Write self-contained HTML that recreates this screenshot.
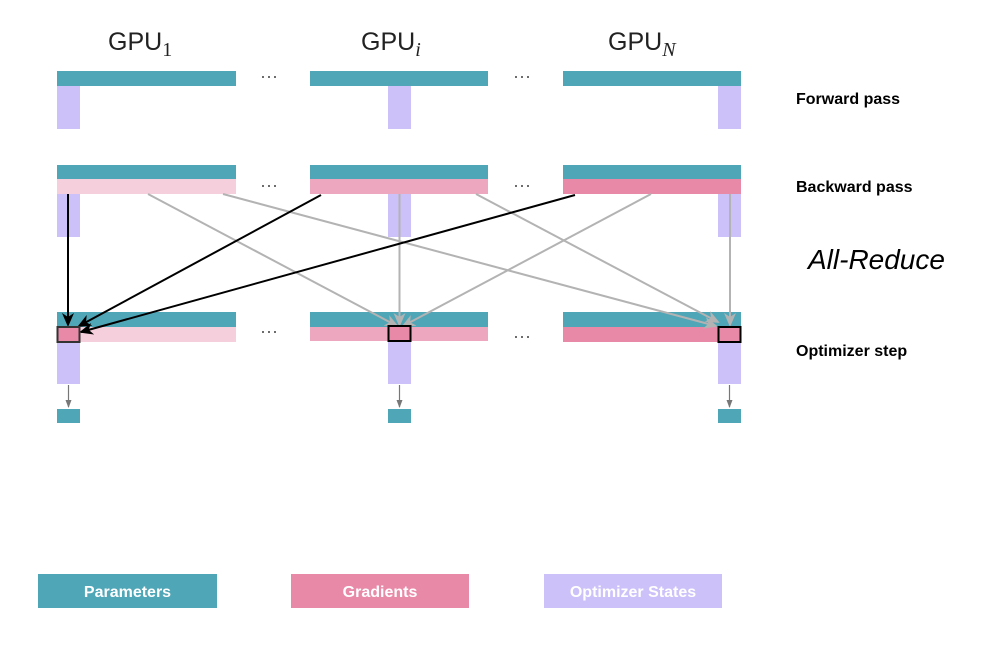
<!DOCTYPE html>
<html><head><style>
body{margin:0;width:991px;height:643px;background:#fff;overflow:hidden;font-family:"Liberation Sans",sans-serif;}
</style></head><body>
<svg width="991" height="643" xmlns="http://www.w3.org/2000/svg" font-family="Liberation Sans, sans-serif">
<defs>
<marker id="ab" markerWidth="8" markerHeight="8" refX="7" refY="4" orient="auto" markerUnits="userSpaceOnUse"><path d="M0,0 L8,4 L0,8 z" fill="#000"/></marker>
<marker id="ag" markerWidth="14" markerHeight="12" refX="12" refY="6" orient="auto" markerUnits="userSpaceOnUse"><path d="M0,0 L14,6 L0,12 L4,6 z" fill="#b3b3b3"/></marker>
<marker id="ak" markerWidth="14" markerHeight="12" refX="12" refY="6" orient="auto" markerUnits="userSpaceOnUse"><path d="M0,0 L14,6 L0,12 L4,6 z" fill="#000"/></marker>
<marker id="as" markerWidth="8" markerHeight="8" refX="7" refY="4" orient="auto" markerUnits="userSpaceOnUse"><path d="M0,1 L8,4 L0,7 z" fill="#777"/></marker>
</defs>
<g font-size="25" fill="#222">
<text x="108" y="50">GPU<tspan font-family="Liberation Serif" font-size="20" dy="6">1</tspan></text>
<text x="361" y="50">GPU<tspan font-family="Liberation Serif" font-style="italic" font-size="20" dy="6">i</tspan></text>
<text x="608" y="50">GPU<tspan font-family="Liberation Serif" font-style="italic" font-size="20" dy="6">N</tspan></text>
</g>
<!-- forward -->
<rect x="57" y="71" width="179" height="15" fill="#4fa6b7"/>
<rect x="310" y="71" width="178" height="15" fill="#4fa6b7"/>
<rect x="563" y="71" width="178" height="15" fill="#4fa6b7"/>
<rect x="57" y="86" width="23" height="43" fill="#cdc1fa"/>
<rect x="388" y="86" width="23" height="43" fill="#cdc1fa"/>
<rect x="718" y="86" width="23" height="43" fill="#cdc1fa"/>
<!-- backward -->
<rect x="57" y="165" width="179" height="14" fill="#4fa6b7"/>
<rect x="310" y="165" width="178" height="14" fill="#4fa6b7"/>
<rect x="563" y="165" width="178" height="14" fill="#4fa6b7"/>
<rect x="57" y="179" width="179" height="15" fill="#f6cfdc"/>
<rect x="310" y="179" width="178" height="15" fill="#eda7be"/>
<rect x="563" y="179" width="178" height="15" fill="#e989a8"/>
<rect x="57" y="194" width="23" height="43" fill="#cdc1fa"/>
<rect x="388" y="194" width="23" height="43" fill="#cdc1fa"/>
<rect x="718" y="194" width="23" height="43" fill="#cdc1fa"/>
<!-- optimizer -->
<rect x="57" y="312" width="179" height="15" fill="#4fa6b7"/>
<rect x="310" y="312" width="178" height="15" fill="#4fa6b7"/>
<rect x="563" y="312" width="178" height="15" fill="#4fa6b7"/>
<rect x="57" y="327" width="179" height="15" fill="#f6cfdc"/>
<rect x="310" y="327" width="178" height="14" fill="#eda7be"/>
<rect x="563" y="327" width="178" height="15" fill="#e989a8"/>
<rect x="57" y="342" width="23" height="42" fill="#cdc1fa"/>
<rect x="388" y="342" width="23" height="42" fill="#cdc1fa"/>
<rect x="718" y="342" width="23" height="42" fill="#cdc1fa"/>
<rect x="57" y="409" width="23" height="14" fill="#4fa6b7"/>
<rect x="388" y="409" width="23" height="14" fill="#4fa6b7"/>
<rect x="718" y="409" width="23" height="14" fill="#4fa6b7"/>
<g stroke="#777" stroke-width="1.2" marker-end="url(#as)">
<line x1="68.5" y1="385" x2="68.5" y2="407"/><line x1="399.5" y1="385" x2="399.5" y2="407"/><line x1="729.5" y1="385" x2="729.5" y2="407"/>
</g>
<!-- dots -->
<g fill="#555" font-size="18"><text x="260" y="82">···</text><text x="513" y="82">···</text><text x="260" y="191">···</text><text x="513" y="191">···</text><text x="260" y="337">···</text><text x="513" y="342">···</text></g>
<!-- gray arrows -->
<g stroke="#b3b3b3" stroke-width="2" marker-end="url(#ag)" fill="none">
<line x1="148" y1="194" x2="397" y2="326"/>
<line x1="223" y1="194" x2="716" y2="326"/>
<line x1="399.5" y1="194" x2="399.5" y2="325"/>
<line x1="476" y1="194" x2="718" y2="322"/>
<line x1="651" y1="194" x2="403" y2="326"/>
<line x1="730" y1="194" x2="730" y2="325"/>
</g>
<g stroke="#000" stroke-width="2" marker-end="url(#ak)" fill="none">
<line x1="68" y1="194" x2="68" y2="325"/>
<line x1="321" y1="195" x2="79" y2="326"/>
<line x1="575" y1="195" x2="81" y2="332"/>
</g>
<rect x="57.5" y="327" width="22" height="15" fill="#e989a8" stroke="#333" stroke-width="2"/>
<rect x="388.5" y="326" width="22" height="15" fill="#e989a8" stroke="#000" stroke-width="2"/>
<rect x="718.5" y="327" width="22" height="15" fill="#e989a8" stroke="#000" stroke-width="2"/>
<g font-weight="bold" font-size="16" fill="#000">
<text x="796" y="104">Forward pass</text>
<text x="796" y="192">Backward pass</text>
<text x="796" y="356">Optimizer step</text>
</g>
<text x="808" y="269" font-size="28" font-style="italic" fill="#000">All-Reduce</text>
<rect x="38" y="574" width="179" height="34" fill="#4fa6b7"/>
<rect x="291" y="574" width="178" height="34" fill="#e989a8"/>
<rect x="544" y="574" width="178" height="34" fill="#cdc1fa"/>
<g font-weight="bold" font-size="16" fill="#fff" text-anchor="middle">
<text x="127.5" y="597">Parameters</text>
<text x="380" y="597">Gradients</text>
<text x="633" y="597">Optimizer States</text>
</g>
</svg>
</body></html>
